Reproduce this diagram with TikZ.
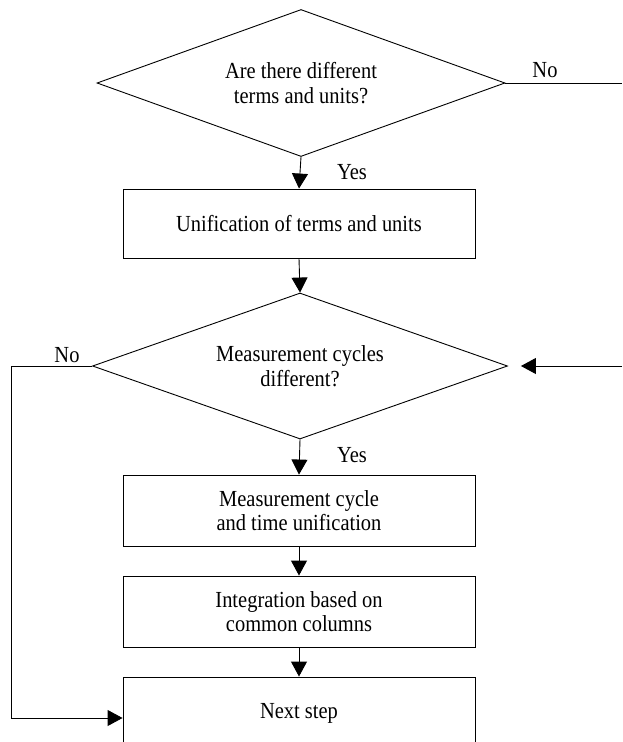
\documentclass[tikz,border=0pt]{standalone}
\usepackage{fontspec}
\setmainfont[FakeStretch=0.89]{Liberation Serif}
\usetikzlibrary{shapes.geometric,arrows.meta}
\begin{document}
\begin{tikzpicture}[x=1pt,y=-1pt,
  every node/.style={font=\fontsize{23}{24.5}\selectfont},
  box/.style={draw, line width=0.9pt, minimum width=352pt, inner sep=0pt, align=center},
  dec/.style={draw, diamond, line width=0.9pt, inner sep=0pt, align=center},
  conn/.style={line width=0.9pt, -{Triangle[length=15pt,width=16pt]}},
  plain/.style={line width=0.9pt}]
\useasboundingbox (0,0) rectangle (622,742);
\clip (0,0) rectangle (622,742);
\node[dec, minimum width=408pt, minimum height=147pt, aspect=2.78] (d1) at (301,83) {Are there different\\terms and units?};
\node[box, minimum height=69pt] (b1) at (299,223.5) {Unification of terms and units};
\node[dec, minimum width=415pt, minimum height=146pt, aspect=2.84] (d2) at (300,366) {Measurement cycles\\different?};
\node[box, minimum height=71pt] (b2) at (299,510.5) {Measurement cycle\\and time unification};
\node[box, minimum height=71pt] (b3) at (299,611.5) {Integration based on\\common columns};
\node[box, minimum height=72pt] (b4) at (299,713) {Next step};
\coordinate (noend) at (622,83);
\coordinate (rin) at (622,366);
\coordinate (lc) at (11,366);
\draw[plain] (d1.east) -- (noend);
\draw[conn] (d1.south) -- (b1.north);
\draw[conn] (b1.south) -- (d2.north);
\draw[conn] (d2.south) -- (b2.north);
\draw[conn] (b2.south) -- (b3.north);
\draw[conn] (b3.south) -- (b4.north);
\draw[conn, shorten >=13pt] (rin) -- (d2.east);
\draw[conn] (d2.west) -- (lc) |- ([yshift=-5pt]b4.west);
\node (no1) at (545,70) {No};
\node (yes1) at (352,172) {Yes};
\node (yes2) at (352,455) {Yes};
\node (no2) at (67,355) {No};
\end{tikzpicture}
\end{document}
